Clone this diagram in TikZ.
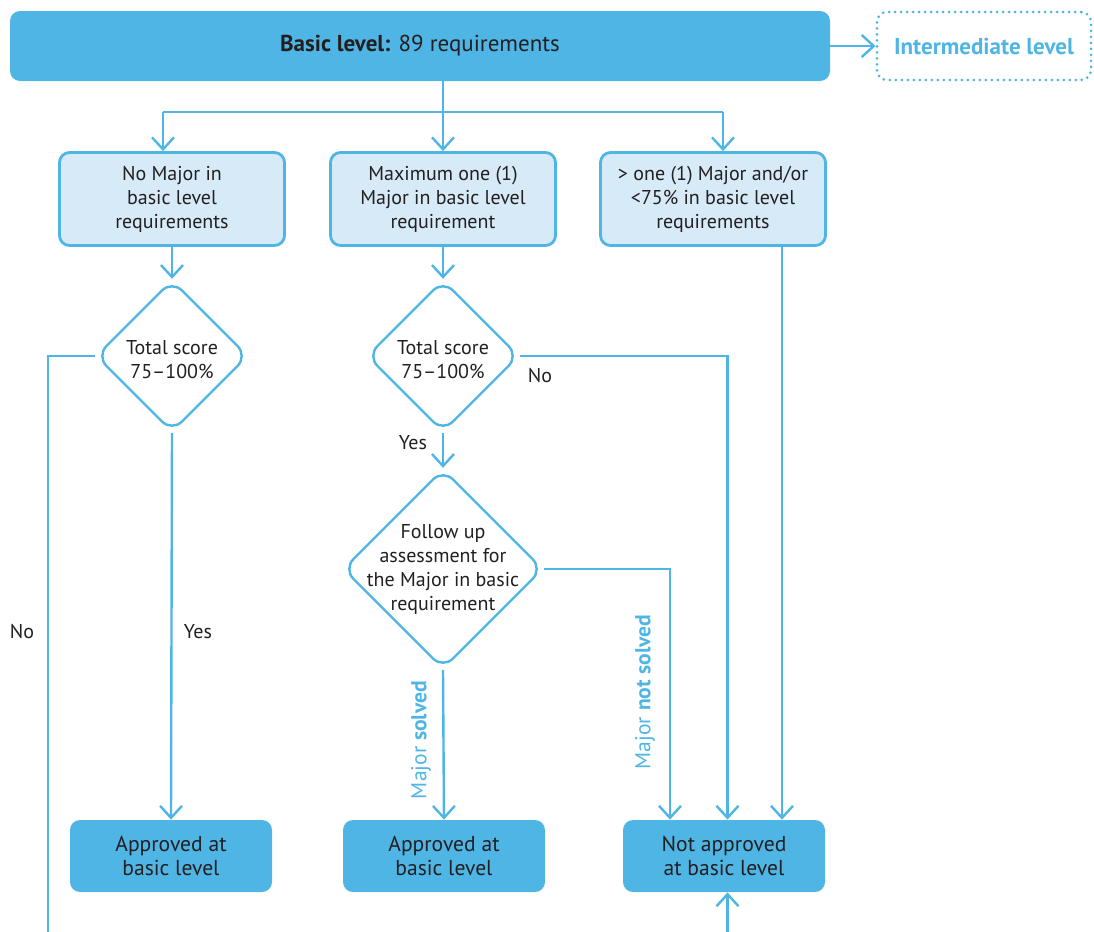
\documentclass[tikz,border=0pt]{standalone}
\usepackage{fontspec}
\setmainfont{PT Sans}
\usetikzlibrary{shapes.geometric,arrows.meta}
\definecolor{bblue}{RGB}{79,181,229}
\definecolor{lblue}{RGB}{214,234,248}
\definecolor{ink}{RGB}{35,31,32}
\begin{document}
\begin{tikzpicture}[x=0.5pt,y=-0.5pt,font=\fontsize{10}{12}\selectfont,text=ink,
  line/.style={draw=bblue,line width=1.2pt},
  arr/.style={line,-{Straight Barb[length=6pt,width=11pt]}},
  darkbox/.style={fill=bblue,rounded corners=5pt,align=center,inner sep=0pt},
  lightbox/.style={draw=bblue,fill=lblue,line width=1.4pt,rounded corners=5pt,align=center,
    minimum width=112.5pt,minimum height=46.5pt,inner sep=0pt},
  decision/.style={draw=bblue,line width=1.2pt,diamond,rounded corners=7pt,inner sep=0pt},
  lab/.style={text=bblue,rotate=90,font=\fontsize{10.8}{12}\selectfont}]
\useasboundingbox (0,0) rectangle (1094,932);
\clip (0,0) rectangle (1094,932);
% top row
\node[darkbox,minimum width=410pt,minimum height=35pt,font=\fontsize{11.5}{14}\selectfont] (basic) at (420,46) {\textbf{Basic level:} 89 requirements};
\node[draw=bblue,line width=1.5pt,dash pattern=on 0pt off 3pt,line cap=round,rounded corners=5pt,
  minimum width=107pt,minimum height=34pt,text=bblue,font=\fontsize{11.5}{14}\selectfont] (inter) at (984,46) {\textbf{Intermediate level}};
\draw[arr] (basic.east) -- (inter.west);
% second row
\node[lightbox] (b1) at (172,199) {No Major in\\basic level\\requirements};
\node[lightbox] (b2) at (443,199) {Maximum one (1)\\Major in basic level\\requirement};
\node[lightbox] (b3) at (713,199) {> one (1) Major and/or\\<75\% in basic level\\requirements};
\coordinate (jl) at (163,112);
\coordinate (jm) at (443,112);
\coordinate (jr) at (723,112);
\draw[line] (basic.south -| jm) -- (jm);
\draw[line] (jl) -- (jr);
\draw[arr] (jl) -- (jl |- b1.north);
\draw[arr] (jm) -- (jm |- b2.north);
\draw[arr] (jr) -- (jr |- b3.north);
% decisions
\node[decision,minimum width=76pt,minimum height=76pt,label={[align=center,yshift=-2pt]center:Total score\\75--100\%}] (d1) at (172,356) {};
\node[decision,minimum width=76pt,minimum height=76pt,label={[align=center,yshift=-2pt]center:Total score\\75--100\%}] (d2) at (443,356) {};
\node[decision,minimum width=100pt,minimum height=100pt,label={[align=center]center:Follow up\\assessment for\\the Major in basic\\requirement}] (d3) at (443,569) {};
\draw[arr] (b1.south) -- (d1.north);
\draw[arr] (b2.south) -- (d2.north);
\draw[arr] (d2.south) -- (d3.north);
% results
\node[darkbox,minimum width=101pt,minimum height=36pt,font=\fontsize{10.8}{12}\selectfont] (a1) at (171,856) {Approved at\\basic level};
\node[darkbox,minimum width=101pt,minimum height=36pt,font=\fontsize{10.8}{12}\selectfont] (a2) at (444,856) {Approved at\\basic level};
\node[darkbox,minimum width=101pt,minimum height=36pt,font=\fontsize{10.8}{12}\selectfont] (na) at (724,856) {Not approved\\at basic level};
\coordinate (lo) at (48,960);
\draw[arr] (d1.west) -| (lo) -| ([xshift=1.75pt]na.south);
\draw[arr] (d1.south) -- (a1.north);
\draw[arr] (d2.east) -| ([xshift=1.75pt]na.north);
\draw[arr] (d3.east) -| ([xshift=-27pt]na.north);
\draw[arr] (d3.south) -- (a2.north);
\draw[arr] ([xshift=29pt]na.north |- b3.south) -- ([xshift=29pt]na.north);
% labels
\node (no1) at (22,632) {No};
\node (yes1) at (198,632) {Yes};
\node (no2) at (540,376) {No};
\node (yes2) at (413,443) {Yes};
\node[lab] (solv) at (421,740) {Major \textbf{solved}};
\node[lab] (nsolv) at (645,692) {Major \textbf{not solved}};
\end{tikzpicture}
\end{document}
